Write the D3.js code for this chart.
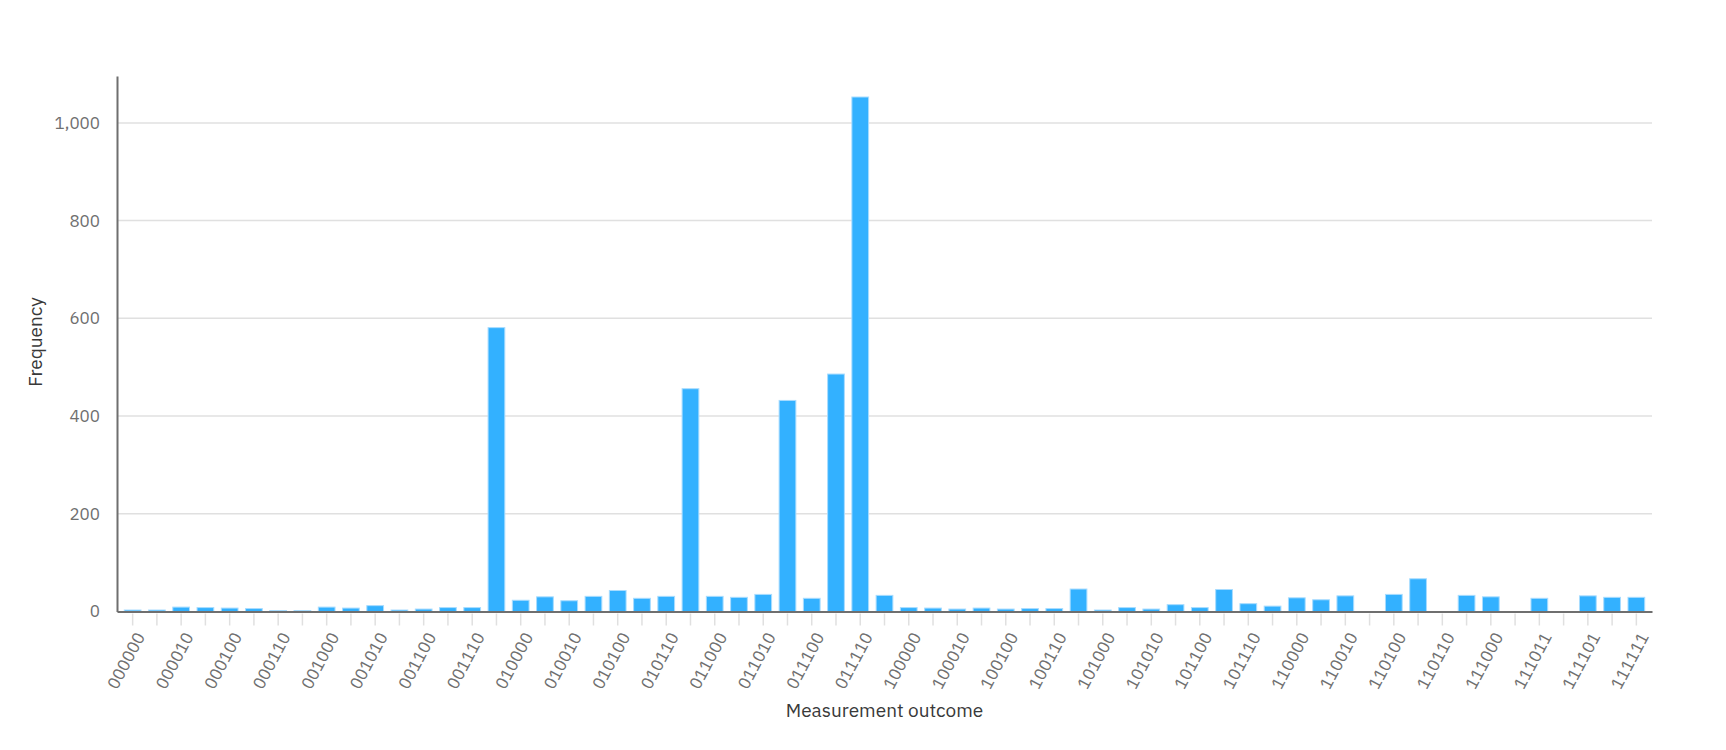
<!DOCTYPE html>
<html>
  <head>
    <title>Measurement outcomes</title>
    <style>
body {
  margin: 0px;
  overflow: hidden;
  background: #fff;
}
text {
  font-family: 'IBM Plex Sans', 'Noto Sans', sans-serif;
}
.tick text {
  font-size: 17px;
  fill: #6f6f6f;
}
.axis-label {
  font-size: 19px;
  fill: #393939;
}
.grid line {
  stroke: #e0e0e0;
  stroke-width: 1.5;
}
.bar {
  fill: #33b1ff;
  stroke: #a8dcff;
  stroke-width: 1;
}
    </style>
    <script src="https://d3js.org/d3.v7.min.js"></script>
  </head>
  <body>
    <svg width="1726" height="750"></svg>
    <script>
// measured counts per outcome (111001 is not in the result set)
const outcomes = [
  '000000', '000001', '000010', '000011', '000100', '000101', '000110', '000111',
  '001000', '001001', '001010', '001011', '001100', '001101', '001110', '001111',
  '010000', '010001', '010010', '010011', '010100', '010101', '010110', '010111',
  '011000', '011001', '011010', '011011', '011100', '011101', '011110', '011111',
  '100000', '100001', '100010', '100011', '100100', '100101', '100110', '100111',
  '101000', '101001', '101010', '101011', '101100', '101101', '101110', '101111',
  '110000', '110001', '110010', '110011', '110100', '110101', '110110', '110111',
  '111000', '111010', '111011', '111100', '111101', '111110', '111111'
];
const counts = [
  3, 3, 9, 8, 7, 6, 2, 2,
  9, 7, 12, 3, 5, 8, 8, 581,
  23, 30, 22, 31, 43, 27, 31, 456,
  31, 29, 35, 432, 27, 486, 1053, 33,
  8, 7, 5, 7, 5, 6, 6, 46,
  3, 8, 5, 14, 8, 45, 16, 11,
  28, 24, 32, 0, 35, 67, 0, 33,
  30, 0, 27, 0, 32, 29, 29
];
const yTicks = [0, 200, 400, 600, 800, 1000];

const svg = d3.select('svg');
const width = +svg.attr('width');
const height = +svg.attr('height');

const margin = { top: 76, right: 74, bottom: 138.5, left: 117 };
const innerWidth = width - margin.left - margin.right;
const innerHeight = height - margin.top - margin.bottom;

const data = outcomes.map((o, i) => ({ outcome: o, count: counts[i] }));

const xScale = d3.scaleBand()
  .domain(outcomes)
  .range([0, innerWidth])
  .paddingInner(0.31)
  .paddingOuter(0.3);

const yScale = d3.scaleLinear()
  .domain([0, 1096])
  .range([innerHeight, 0]);

const g = svg.append('g')
  .attr('transform', `translate(${margin.left},${margin.top})`);

// horizontal grid
g.append('g')
  .attr('class', 'grid')
  .selectAll('line').data(yTicks.filter(d => d > 0))
  .enter().append('line')
    .attr('x1', 0)
    .attr('x2', innerWidth)
    .attr('y1', d => yScale(d))
    .attr('y2', d => yScale(d));

// y axis
const yAxis = d3.axisLeft(yScale)
  .tickValues(yTicks)
  .tickFormat(d3.format(','))
  .tickSize(0)
  .tickPadding(17);
const yAxisG = g.append('g').call(yAxis);
yAxisG.select('.domain')
  .attr('stroke', '#6f6f6f')
  .attr('stroke-width', 2);

yAxisG.append('text')
  .attr('class', 'axis-label')
  .attr('transform', 'rotate(-90)')
  .attr('x', -(342 - margin.top))
  .attr('y', -(margin.left - 42))
  .attr('text-anchor', 'middle')
  .text('Frequency');

// bars
g.selectAll('rect.bar').data(data)
  .enter().append('rect')
    .attr('class', 'bar')
    .attr('x', d => xScale(d.outcome))
    .attr('width', xScale.bandwidth())
    .attr('y', d => yScale(d.count))
    .attr('height', d => innerHeight - yScale(d.count))
    .style('display', d => d.count > 0 ? null : 'none');

// x axis, a tick per outcome, a label on every other one
const xAxis = d3.axisBottom(xScale)
  .tickSize(0);
const xAxisG = g.append('g')
  .attr('transform', `translate(0,${innerHeight})`)
  .call(xAxis);
xAxisG.select('.domain')
  .attr('stroke', '#6f6f6f')
  .attr('stroke-width', 2);
xAxisG.selectAll('.tick line')
  .attr('y1', 2)
  .attr('y2', 14)
  .attr('stroke', '#e0e0e0')
  .attr('stroke-width', 1.5);
xAxisG.selectAll('.tick text')
  .filter((d, i) => i % 2 === 1)
  .remove();
xAxisG.selectAll('.tick text')
  .attr('text-anchor', 'end')
  .attr('dy', null)
  .attr('y', null)
  .attr('transform', 'translate(13,25) rotate(-62)');

xAxisG.append('text')
  .attr('class', 'axis-label')
  .attr('x', innerWidth / 2)
  .attr('y', 717 - margin.top - innerHeight)
  .attr('text-anchor', 'middle')
  .text('Measurement outcome');
    </script>
  </body>
</html>
